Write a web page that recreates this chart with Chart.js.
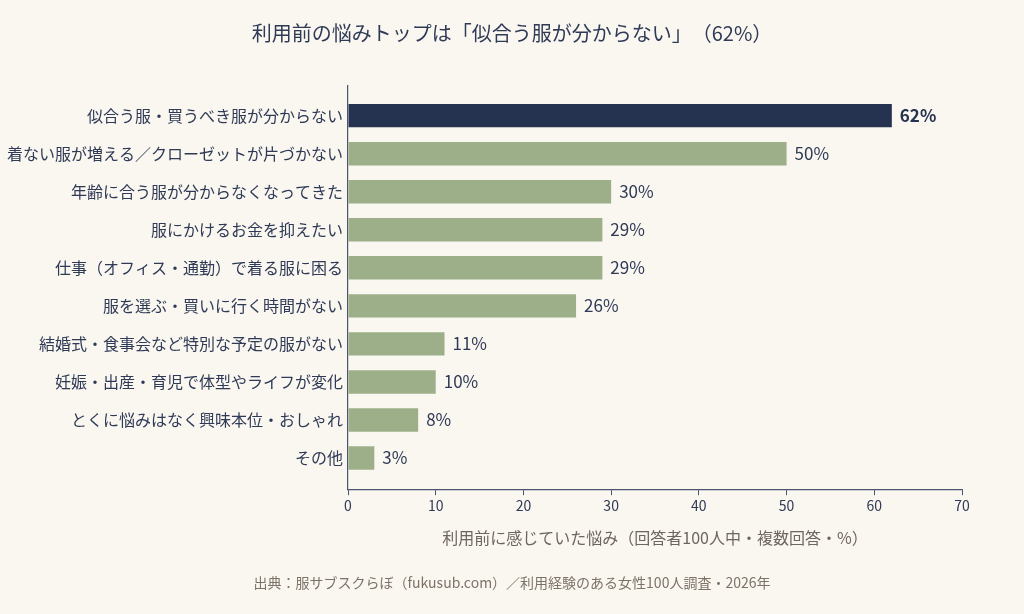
<!DOCTYPE html>
<html lang="ja">
<head>
<meta charset="utf-8">
<title>利用前の悩み</title>
<script src="https://cdn.jsdelivr.net/npm/chart.js@4.4.1/dist/chart.umd.min.js"></script>
<style>
    html, body { margin: 0; padding: 0; background: #faf6f0; }
    #wrap { width: 1024px; height: 614px; }
    canvas { text-spacing-trim: space-all; }
</style>
</head>
<body>
<div id="wrap">
    <canvas id="worryChart" width="1024" height="614"></canvas>
</div>
<script>
const categories = [
    '似合う服・買うべき服が分からない',
    '着ない服が増える／クローゼットが片づかない',
    '年齢に合う服が分からなくなってきた',
    '服にかけるお金を抑えたい',
    '仕事（オフィス・通勤）で着る服に困る',
    '服を選ぶ・買いに行く時間がない',
    '結婚式・食事会など特別な予定の服がない',
    '妊娠・出産・育児で体型やライフが変化',
    'とくに悩みはなく興味本位・おしゃれ',
    'その他'
];
const percents = [62, 50, 30, 29, 29, 26, 11, 10, 8, 3];
const xTicks = [0, 10, 20, 30, 40, 50, 60, 70];

const titleText = '利用前の悩みトップは「似合う服が分からない」（62%）';
const axisTitle = '利用前に感じていた悩み（回答者100人中・複数回答・%）';
const sourceText = '出典：服サブスクらぼ（fukusub.com）／利用経験のある女性100人調査・2026年';

const FONT = "'Noto Sans CJK JP', 'Noto Sans', sans-serif";
const NAVY = '#253350';
const GREEN = '#9caf88';
const TEXT = '#2f3b56';
const MUTED = '#6e665e';
const AXIS = '#4a5370';

const bg = {
    id: 'bg',
    beforeDraw(chart) {
        const ctx = chart.ctx;
        ctx.save();
        ctx.fillStyle = '#faf6f0';
        ctx.fillRect(0, 0, chart.width, chart.height);
        ctx.restore();
    }
};

// percent labels just past the end of each bar
const valueLabels = {
    id: 'valueLabels',
    afterDatasetsDraw(chart) {
        const ctx = chart.ctx;
        const meta = chart.getDatasetMeta(0);
        ctx.save();
        ctx.textBaseline = 'middle';
        ctx.textAlign = 'left';
        meta.data.forEach((bar, i) => {
            ctx.font = (i === 0 ? 'bold ' : '') + '17px ' + FONT;
            ctx.fillStyle = i === 0 ? NAVY : TEXT;
            ctx.fillText(percents[i] + '%', bar.x + 8, bar.y);
        });
        ctx.restore();
    }
};

const ctx = document.getElementById('worryChart').getContext('2d');

new Chart(ctx, {
    type: 'bar',
    data: {
        datasets: [{
            data: percents.map((v, i) => ({ x: v, y: i })),
            backgroundColor: percents.map((v, i) => i === 0 ? NAVY : GREEN),
            borderWidth: 0,
            barPercentage: 0.615,
            categoryPercentage: 1
        }]
    },
    options: {
        indexAxis: 'y',
        responsive: false,
        animation: false,
        layout: { padding: 0 },
        plugins: {
            legend: { display: false },
            tooltip: { enabled: false },
            title: {
                display: true,
                text: titleText,
                color: TEXT,
                font: { family: FONT, size: 20, weight: 'normal' },
                padding: { top: 21, bottom: 41 }
            },
            subtitle: {
                display: true,
                position: 'bottom',
                text: sourceText,
                color: '#7d7268',
                font: { family: FONT, size: 14, weight: 'normal' },
                padding: { top: 23, bottom: 23 }
            }
        },
        scales: {
            x: {
                type: 'linear',
                min: 0,
                max: 70,
                afterBuildTicks: (axis) => { axis.ticks = xTicks.map(v => ({ value: v })); },
                grid: {
                    display: true,
                    drawOnChartArea: false,
                    drawTicks: true,
                    tickLength: 6,
                    tickColor: AXIS
                },
                border: { display: true, color: AXIS, width: 1.2 },
                ticks: {
                    color: TEXT,
                    padding: 2,
                    font: { family: FONT, size: 14 }
                },
                title: {
                    display: true,
                    text: axisTitle,
                    color: MUTED,
                    font: { family: FONT, size: 16 },
                    padding: { top: 12, bottom: 4 }
                }
            },
            y: {
                type: 'linear',
                reverse: true,
                offset: false,
                min: -0.78,
                max: 9.82,
                afterBuildTicks: (axis) => { axis.ticks = categories.map((c, i) => ({ value: i })); },
                afterFit: (axis) => { axis.width = 348; },
                grid: { display: false, drawTicks: false, offset: false },
                border: { display: true, color: AXIS, width: 1.2 },
                ticks: {
                    color: TEXT,
                    padding: 5,
                    font: { family: FONT, size: 16 },
                    callback: (value) => categories[value]
                }
            },
            // empty right-hand axis, only there to keep the right margin
            yRight: {
                type: 'linear',
                axis: 'y',
                position: 'right',
                afterFit: (axis) => { axis.width = 62; },
                grid: { display: false, drawTicks: false },
                border: { display: false },
                ticks: { display: false }
            }
        }
    },
    plugins: [bg, valueLabels]
});
</script>
</body>
</html>
